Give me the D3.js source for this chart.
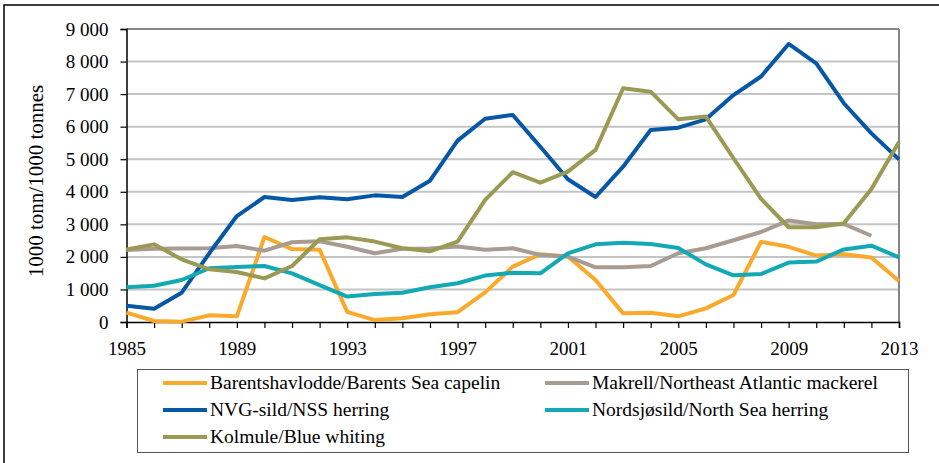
<!DOCTYPE html>
<html>
<head>
<meta charset="utf-8">
<script src="https://cdn.jsdelivr.net/npm/d3@7"></script>
<style>
  body { margin: 0; background: #fff; }
  text { font-family: "Liberation Serif", "DejaVu Serif", serif; fill: #000; }
</style>
</head>
<body>
<script>
const years = d3.range(1985, 2014);

const capelin = [290, 30, 10, 205, 175, 2610, 2240, 2220, 310, 60,
  115, 235, 300, 910, 1700, 2080, 2010, 1290, 265, 285,
  175, 420, 830, 2460, 2310, 2040, 2080, 1980, 1260];
const mackerel = [2210, 2250, 2255, 2265, 2335, 2190, 2450, 2480, 2310, 2110,
  2250, 2255, 2320, 2220, 2265, 2060, 2010, 1680, 1680, 1720,
  2110, 2265, 2510, 2765, 3120, 3000, 3010, 2650];
const nvgHerring = [500, 410, 900, 2110, 3255, 3840, 3750, 3830, 3770, 3890,
  3840, 4340, 5570, 6245, 6360, 5385, 4385, 3840, 4770, 5900,
  5970, 6225, 6970, 7540, 8540, 7945, 6720, 5795, 4995];
const northSeaHerring = [1065, 1115, 1290, 1650, 1690, 1720, 1495, 1135, 780, 860,
  900, 1065, 1190, 1425, 1515, 1495, 2110, 2385, 2435, 2395,
  2275, 1770, 1435, 1475, 1825, 1855, 2230, 2345, 1985];
const blueWhiting = [2230, 2385, 1925, 1620, 1535, 1340, 1720, 2540, 2600, 2470,
  2265, 2170, 2470, 3750, 4600, 4280, 4620, 5285, 7180, 7075,
  6225, 6310, 5030, 3780, 2910, 2910, 3030, 4085, 5530];

const seriesNames = ["Barentshavlodde/Barents Sea capelin", "Makrell/Northeast Atlantic mackerel",
  "NVG-sild/NSS herring", "Nordsjøsild/North Sea herring", "Kolmule/Blue whiting"];
const seriesValues = [capelin, mackerel, nvgHerring, northSeaHerring, blueWhiting];
const seriesColors = ["#FBA92B", "#A89C92", "#0657A6", "#12A9B5", "#9B9A54"];

const yTicks = d3.range(0, 9001, 1000);
const xLabels = [1985, 1989, 1993, 1997, 2001, 2005, 2009, 2013];

const W = 939, H = 463;
const svg = d3.select("body").append("svg").attr("width", W).attr("height", H);

// outer frame
svg.append("rect").attr("x", 4).attr("y", 5).attr("width", W + 10).attr("height", H + 10)
  .attr("fill", "none").attr("stroke", "#000").attr("stroke-width", 1.5);

const x = d3.scaleLinear().domain([1985, 2013]).range([126.5, 899]);
const y = d3.scaleLinear().domain([0, 9000]).range([322, 29]);

// grid
svg.append("g").selectAll("line").data(yTicks.slice(1)).join("line")
  .attr("x1", x(1985)).attr("x2", x(2013))
  .attr("y1", d => y(d)).attr("y2", d => y(d))
  .attr("stroke", d => d === 9000 ? "#868686" : "#C4C4C4").attr("stroke-width", 2);

// right border
svg.append("line").attr("x1", x(2013)).attr("x2", x(2013)).attr("y1", y(9000)).attr("y2", y(0))
  .attr("stroke", "#868686").attr("stroke-width", 2);

// y axis
const yAxis = svg.append("g").attr("transform", `translate(${x(1985)},0)`)
  .call(d3.axisLeft(y).tickValues(yTicks).tickSize(6).tickPadding(12)
    .tickFormat(d => d3.format(",")(d).replace(/,/g, " ")));
yAxis.select(".domain").attr("stroke", "#000").attr("stroke-width", 1.5);
yAxis.selectAll(".tick line").attr("stroke", "#000").attr("stroke-width", 1.2);
yAxis.selectAll(".tick text").style("font-size", "19px");

// x axis
const xAxis = svg.append("g").attr("transform", `translate(0,${y(0)})`)
  .call(d3.axisBottom(x).tickValues(years).tickSize(6).tickPadding(14)
    .tickFormat(d => xLabels.includes(d) ? d : ""));
xAxis.select(".domain").attr("stroke", "#000").attr("stroke-width", 1.5);
xAxis.selectAll(".tick line").attr("stroke", "#000").attr("stroke-width", 1.2);
xAxis.selectAll(".tick text").style("font-size", "19px");

// y title
svg.append("text")
  .attr("transform", `translate(43,181) rotate(-90)`)
  .attr("text-anchor", "middle")
  .style("font-size", "21px")
  .text("1000 tonn/1000 tonnes");

// lines
const line = d3.line().x((d, i) => x(years[i])).y(d => y(d));
seriesValues.forEach((vals, k) => {
  svg.append("path").datum(vals)
    .attr("d", line)
    .attr("fill", "none")
    .attr("stroke", seriesColors[k])
    .attr("stroke-width", 4)
    .attr("stroke-linejoin", "round");
});

// legend
svg.append("rect").attr("x", 137.5).attr("y", 369.5).attr("width", 771).attr("height", 83)
  .attr("fill", "#fff").attr("stroke", "#555").attr("stroke-width", 1);
const legendPos = [[163, 383], [545, 383], [163, 410], [545, 410], [163, 437]];
seriesNames.forEach((name, k) => {
  const [lx, ly] = legendPos[k];
  const g = svg.append("g").attr("transform", `translate(${lx},${ly})`);
  g.append("line").attr("x1", 0).attr("x2", 44).attr("y1", 0).attr("y2", 0)
    .attr("stroke", seriesColors[k]).attr("stroke-width", 4);
  g.append("text").attr("x", 47).attr("y", 5.5).style("font-size", "19.5px").text(name);
});
</script>
</body>
</html>
